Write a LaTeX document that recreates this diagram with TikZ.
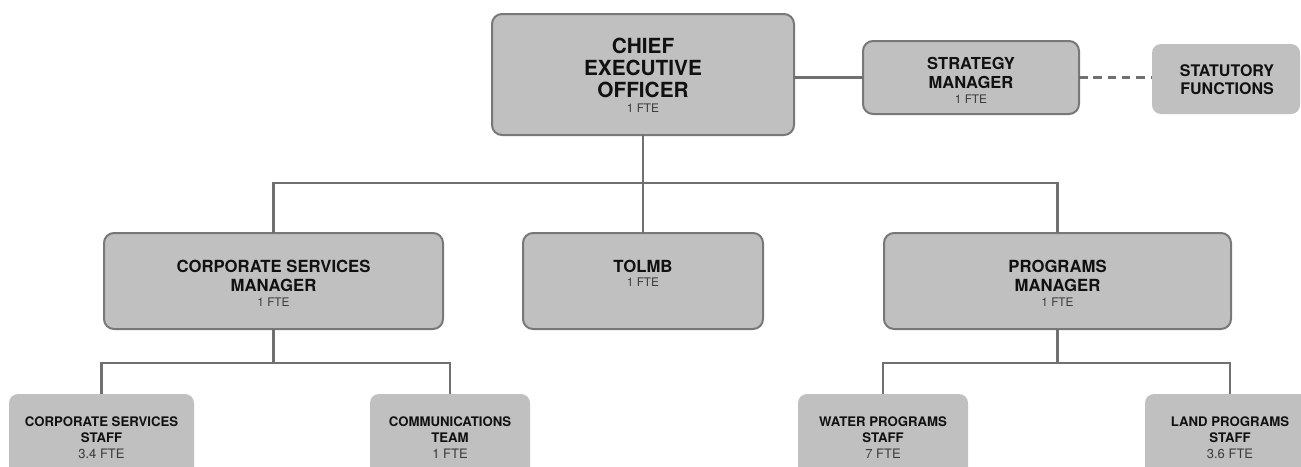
\documentclass[tikz,border=0pt]{standalone}
\usepackage{fontspec}
\setmainfont{TeX Gyre Heros}
\definecolor{boxfill}{RGB}{192,192,192}
\definecolor{bordergray}{RGB}{120,120,120}
\definecolor{linegray}{RGB}{112,112,112}
\definecolor{titleblack}{RGB}{17,17,17}
\definecolor{ftegray}{RGB}{58,58,58}
\newcommand\ftetext[1]{{\fontsize{11.8}{14}\selectfont\mdseries\color{ftegray}#1}}
\newcommand\subftetext[1]{{\fontsize{13}{15}\selectfont\mdseries\color{ftegray}#1}}
\begin{document}
\begin{tikzpicture}[x=1pt,y=-1pt,
  mainbox/.style={draw=bordergray, line width=2pt, fill=boxfill, rounded corners=10pt, inner sep=0pt, outer sep=0pt},
  plainbox/.style={fill=boxfill, rounded corners=9pt, inner sep=0pt, outer sep=0pt},
  link/.style={draw=linegray, line width=2.2pt},
  dashlink/.style={draw=linegray, line width=2.2pt, dash pattern=on 8.5pt off 5.8pt},
  txt/.style={anchor=north, inner sep=0pt, outer sep=0pt, align=center, text=titleblack}]
\useasboundingbox (0,0) rectangle (1301,466);
\clip (0,0) rectangle (1301,466);

% boxes
\node[mainbox, minimum width=302pt, minimum height=121pt] (ceo) at (643,74.5) {};
\node[mainbox, minimum width=216pt, minimum height=73pt] (strat) at (971,77.5) {};
\node[plainbox, minimum width=148pt, minimum height=70pt] (stat) at (1226,79) {};
\node[mainbox, minimum width=339pt, minimum height=96pt] (corp) at (273.5,281) {};
\node[mainbox, minimum width=240pt, minimum height=96pt] (tolmb) at (643,281) {};
\node[mainbox, minimum width=347pt, minimum height=96pt] (prog) at (1057.5,281) {};
\node[plainbox, minimum width=185pt, minimum height=96pt] (cstaff) at (101.5,442) {};
\node[plainbox, minimum width=160pt, minimum height=96pt] (comm) at (450,442) {};
\node[plainbox, minimum width=170pt, minimum height=96pt] (water) at (883,442) {};
\node[plainbox, minimum width=170pt, minimum height=96pt] (land) at (1230,442) {};

% connectors
\coordinate (topbar) at (643,183);
\coordinate (cbar) at (273.5,363);
\coordinate (pbar) at (1057.5,363);
\draw[link] (ceo.east |- strat.west) -- (strat.west);
\draw[dashlink] (strat.east) -- (strat.east -| stat.west);
\draw[link] (ceo.south) -- (tolmb.north);
\draw[link] (corp.north) |- (topbar) -| (prog.north);
\draw[link] (corp.south) -- (cbar);
\draw[link] (cstaff.north) |- (cbar) -| (comm.north);
\draw[link] (prog.south) -- (pbar);
\draw[link] (water.north) |- (pbar) -| (land.north);

% texts
\node[txt, font={\bfseries\fontsize{20.8}{22}\selectfont}] (ceo-t) at (643,37.6)
  {CHIEF\\EXECUTIVE\\OFFICER\\[-7pt]\ftetext{1 FTE}};
\node[txt, font={\bfseries\fontsize{16.5}{19}\selectfont}] (strat-t) at (971,56.8)
  {STRATEGY\\MANAGER\\[-4pt]\ftetext{1 FTE}};
\node[txt, font={\bfseries\fontsize{16}{18}\selectfont}] (stat-t) at (1227,64.2)
  {STATUTORY\\FUNCTIONS};
\node[txt, font={\bfseries\fontsize{16.7}{19}\selectfont}] (corp-t) at (273.5,260.6)
  {CORPORATE SERVICES\\MANAGER\\[-4pt]\ftetext{1 FTE}};
\node[txt, font={\bfseries\fontsize{16.7}{19}\selectfont}] (tolmb-t) at (643,260.6)
  {TOLMB\\[-5pt]\ftetext{1 FTE}};
\node[txt, font={\bfseries\fontsize{16.7}{19}\selectfont}] (prog-t) at (1057.5,260.6)
  {PROGRAMS\\MANAGER\\[-4pt]\ftetext{1 FTE}};
\node[txt, font={\bfseries\fontsize{13.2}{15.5}\selectfont}] (cstaff-t) at (101.5,417.2)
  {CORPORATE SERVICES\\STAFF\\[0.5pt]\subftetext{3.4 FTE}};
\node[txt, font={\bfseries\fontsize{13.2}{15.5}\selectfont}] (comm-t) at (450,417.2)
  {COMMUNICATIONS\\TEAM\\[0.5pt]\subftetext{1 FTE}};
\node[txt, font={\bfseries\fontsize{13.2}{15.5}\selectfont}] (water-t) at (883,417.2)
  {WATER PROGRAMS\\STAFF\\[0.5pt]\subftetext{7 FTE}};
\node[txt, font={\bfseries\fontsize{13.2}{15.5}\selectfont}] (land-t) at (1230,417.2)
  {LAND PROGRAMS\\STAFF\\[0.5pt]\subftetext{3.6 FTE}};
\end{tikzpicture}
\end{document}
